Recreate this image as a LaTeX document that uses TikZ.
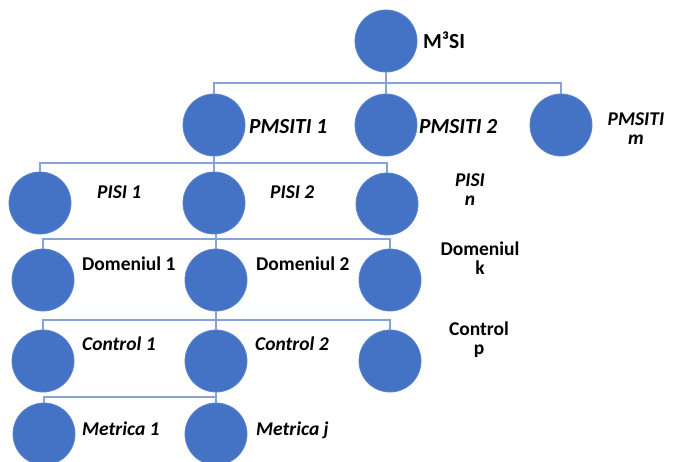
\documentclass[tikz,border=0pt]{standalone}
\usepackage{fontspec}
\setmainfont{Carlito}
\definecolor{cblue}{HTML}{4472C4}
\definecolor{cedge}{HTML}{5B84CC}
\definecolor{cline}{HTML}{86A3D8}
\begin{document}
\begin{tikzpicture}[x=1pt,y=-1pt,
  circ/.style={circle,fill=cblue,draw=cedge,line width=0.8pt,minimum size=62pt,inner sep=0pt},
  lbl/.style={font=\fontsize{19.5}{19}\selectfont\bfseries,text=black,inner sep=0pt,align=center},
  ilbl/.style={font=\fontsize{19.5}{19}\selectfont\bfseries\itshape,text=black,inner sep=0pt,align=center},
  biglbl/.style={font=\fontsize{21.5}{21}\selectfont\bfseries,text=black,inner sep=0pt},
  bigilbl/.style={font=\fontsize{21.5}{21}\selectfont\bfseries\itshape,text=black,inner sep=0pt},
  conn/.style={draw=cline,line width=1.3pt}]
\useasboundingbox (0,0) rectangle (674,461);
% circles
\node[circ] (m3si) at (386,41) {};
\node[circ] (pm1) at (214,125) {};
\node[circ] (pm2) at (386,125) {};
\node[circ] (pmm) at (561,125) {};
\node[circ] (pisi1) at (40,203) {};
\node[circ] (pisi2) at (214,203) {};
\node[circ] (pisin) at (387,204) {};
\node[circ] (dom1) at (43,280) {};
\node[circ] (dom2) at (216,280) {};
\node[circ] (domk) at (390,280) {};
\node[circ] (ctl1) at (43,361) {};
\node[circ] (ctl2) at (216,361) {};
\node[circ] (ctlp) at (390,361) {};
\node[circ] (met1) at (44,434) {};
\node[circ] (metj) at (216,434) {};
% bus levels
\coordinate (b1) at (0,83);
\coordinate (b2) at (0,163);
\coordinate (b3) at (0,239);
\coordinate (b4) at (0,320);
\coordinate (b5) at (0,397);
% connectors
\draw[conn] (m3si.south) -- (m3si.south |- b1) -| (pm1.north);
\draw[conn] (m3si.south |- b1) -| (pmm.north);
\draw[conn] (m3si.south |- b1) -- (pm2.north);
\draw[conn] (pm1.south) -- (pm1.south |- b2) -| (pisi1.north);
\draw[conn] (pm1.south |- b2) -| (pisin.north);
\draw[conn] (pm1.south |- b2) -- (pisi2.north);
\draw[conn] (dom2.north |- pisi2.south) -- (dom2.north |- b3) -| (dom1.north);
\draw[conn] (dom2.north |- b3) -| (domk.north);
\draw[conn] (dom2.north |- b3) -- (dom2.north);
\draw[conn] (dom2.south) -- (dom2.south |- b4) -| (ctl1.north);
\draw[conn] (dom2.south |- b4) -| (ctlp.north);
\draw[conn] (dom2.south |- b4) -- (ctl2.north);
\draw[conn] (ctl2.south) -- (ctl2.south |- b5) -| (met1.north);
\draw[conn] (ctl2.south |- b5) -- (metj.north);
% labels
\node[biglbl,anchor=base west] (t0) at (423,48) {M³SI};
\node[bigilbl,anchor=base west] (t1) at (249,133) {PMSITI 1};
\node[bigilbl,anchor=base west] (t2) at (419,133) {PMSITI 2};
\node[ilbl,anchor=base] (t3) at (636,144) {PMSITI\\m};
\node[ilbl,anchor=base west] (t4) at (97,198) {PISI 1};
\node[ilbl,anchor=base west] (t5) at (270,198) {PISI 2};
\node[ilbl,anchor=base] (t6) at (470,205) {PISI\\n};
\node[lbl,anchor=base west] (t7) at (82,270) {Domeniul 1};
\node[lbl,anchor=base west] (t8) at (256,270) {Domeniul 2};
\node[lbl,anchor=base] (t9) at (480,274) {Domeniul\\k};
\node[ilbl,anchor=base west] (t10) at (82,350) {Control 1};
\node[ilbl,anchor=base west] (t11) at (255,350) {Control 2};
\node[lbl,anchor=base] (t12) at (479,354) {Control\\p};
\node[ilbl,anchor=base west] (t13) at (82,435) {Metrica 1};
\node[ilbl,anchor=base west] (t14) at (256,435) {Metrica j};
\end{tikzpicture}
\end{document}
